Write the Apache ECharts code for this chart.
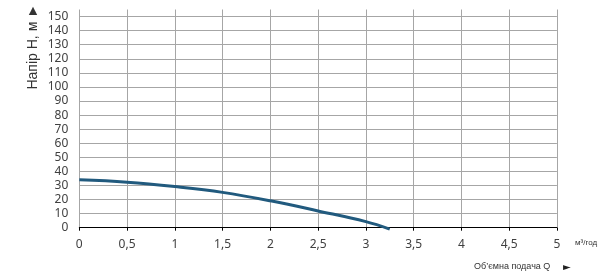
<!DOCTYPE html>
<html><head><meta charset="utf-8">
<script src="https://cdn.jsdelivr.net/npm/echarts@6/dist/echarts.min.js"></script>
<style>html,body{margin:0;padding:0;background:#fff}#c{width:612px;height:280px}</style>
</head><body><div id="c"></div>
<script>
var flowQ = [0, 0.5, 1, 1.5, 2, 2.5, 3, 3.25];
var headH = [34, 32.3, 29.2, 25.1, 19.1, 11.9, 4.3, -1];
var yTitle = 'Напір H, м ►';
var xTitle = 'Об’ємна подача Q';
var xUnit = 'м³/год';

var chart = echarts.init(document.getElementById('c'), null, {renderer: 'canvas'});
var gridColor = '#a6a6a6';
chart.setOption({
  animation: false,
  grid: {left: 79.3, right: 55.1, top: 9.5, bottom: 52.3, containLabel: false},
  xAxis: {
    type: 'value', min: 0, max: 5, interval: 0.5,
    offset: 26,
    axisLine: {show: true, lineStyle: {color: '#000', width: 1}},
    axisTick: {show: true, inside: false, length: 3, lineStyle: {color: '#000'}},
    axisLabel: {inside: true, margin: 3, fontFamily: 'Noto Sans', fontSize: 12, color: '#404040',
      formatter: function (v) { return String(v).replace('.', ','); }},
    splitLine: {show: true, lineStyle: {color: gridColor, width: 1}}
  },
  yAxis: {
    type: 'value', min: 0, max: 155, interval: 10,
    axisLine: {show: false}, axisTick: {show: false},
    axisLabel: {showMaxLabel: false, margin: 11, fontFamily: 'Noto Sans', fontSize: 12, color: '#404040'},
    splitLine: {show: true, showMaxLine: false, lineStyle: {color: gridColor, width: 1}}
  },
  series: [{
    type: 'line',
    data: flowQ.map(function (q, i) { return [q, headH[i]]; }),
    smooth: 0.4,
    showSymbol: false,
    clip: false,
    lineStyle: {color: '#215a7e', width: 3}
  }],
  graphic: [
    {type: 'text', x: 33, y: 4, rotation: Math.PI / 2,
     style: {text: yTitle, fill: '#333', font: '14px "Liberation Sans"', textAlign: 'right', textVerticalAlign: 'middle'}},
    {type: 'text', x: 474, y: 267,
     style: {text: xTitle, fill: '#333', font: '9px "Liberation Sans"', textAlign: 'left', textVerticalAlign: 'middle'}},
    {type: 'text', x: 563, y: 267,
     style: {text: '►', fill: '#222', font: '10px "DejaVu Sans"', textAlign: 'left', textVerticalAlign: 'middle'}},
    {type: 'text', x: 575, y: 243,
     style: {text: xUnit, fill: '#333', font: '8px "Liberation Sans"', textAlign: 'left', textVerticalAlign: 'middle'}}
  ]
});
</script></body></html>
